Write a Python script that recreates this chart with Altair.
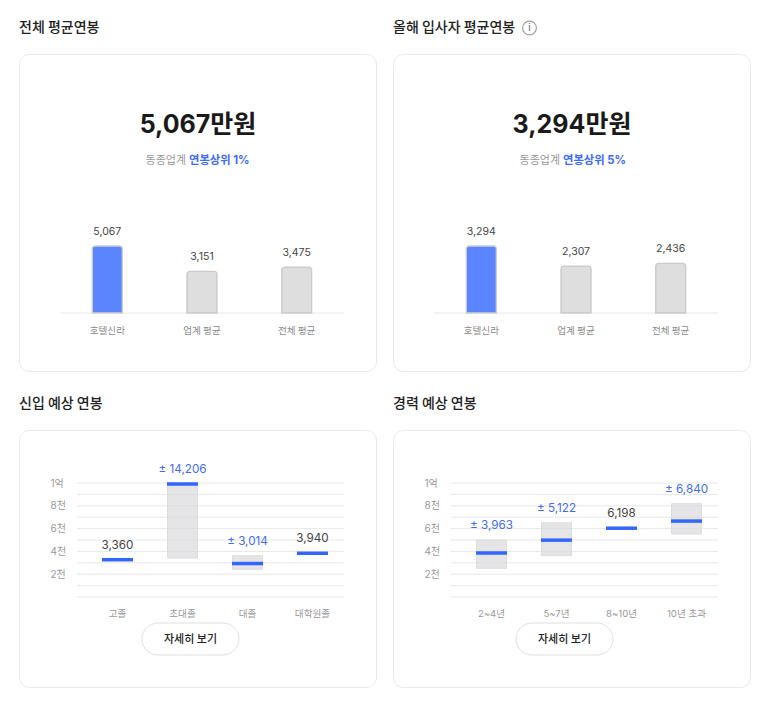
import altair as alt
import pandas as pd

FONT = "Inter, 'Noto Sans CJK KR', sans-serif"
KR = "'Noto Sans CJK KR', sans-serif"

top_titles = ["전체 평균연봉", "올해 입사자 평균연봉"]
top_big = ["5,067만원", "3,294만원"]
top_rank = ["연봉상위 1%", "연봉상위 5%"]
bar_cats = ["호텔신라", "업계 평균", "전체 평균"]
bar_vals_1 = [5067, 3151, 3475]
bar_vals_2 = [3294, 2307, 2436]

edu_cats = ["고졸", "초대졸", "대졸", "대학원졸"]
edu_mean = [3360, 10180, 3014, 3940]
edu_low = [None, 3514, 2495, None]
edu_high = [None, 10180, 3720, None]
edu_labels = ["3,360", "± 14,206", "± 3,014", "3,940"]

exp_cats = ["2~4년", "5~7년", "8~10년", "10년 초과"]
exp_mean = [3963, 5122, 6198, 6840]
exp_low = [2585, 3720, None, 5676]
exp_high = [5135, 6694, None, 8405]
exp_labels = ["± 3,963", "± 5,122", "6,198", "± 6,840"]

grid_vals = [0, 1000, 2000, 3000, 4000, 5000, 6000, 7000, 8000, 9000, 10000]
tick_vals = [2000, 4000, 6000, 8000, 10000]

CARD = alt.ViewBackground(stroke="#e9e9e9", strokeWidth=1, cornerRadius=10, fill="#ffffff")
BLUE = "#3366ff"


def head(text):
    d = pd.DataFrame({"h": [text]})
    return alt.Chart(d).mark_text(fontSize=14, fontWeight=500, color="#222222", font=KR,
                                  align="left").encode(
        x=alt.value(0), y=alt.value(-26), text="h:N")


def bar_panel(title, big, rank, cats, vals, icon=False):
    df = pd.DataFrame({"cat": cats, "val": vals, "label": [f"{v:,}" for v in vals],
                       "first": [True, False, False]})
    x = alt.X("cat:N", sort=None,
              scale=alt.Scale(domain=cats, range=[41, 325]),
              axis=alt.Axis(title=None, domain=False, ticks=False, tickSize=0, labelAngle=0,
                            labelPadding=0, labelBaseline="top", labelFontSize=9.6,
                            labelColor="#8a8a8a", labelFont=KR, offset=-46, grid=False))
    y = alt.Y("val:Q", scale=alt.Scale(domain=[0, max(vals)], range=[259, 192]), axis=None)
    bars = alt.Chart(df).mark_bar(size=30, cornerRadiusTopLeft=3, cornerRadiusTopRight=3,
                                  strokeWidth=1.3).encode(
        x=x, y=y,
        fill=alt.condition("datum.first", alt.value("#5a85ff"), alt.value("#dedede")),
        stroke=alt.condition("datum.first", alt.value("#6f94ff"), alt.value("#cbcbcb")),
    )
    vals_txt = alt.Chart(df).mark_text(dy=-14, fontSize=10.5, color="#444444", font=FONT).encode(
        x=x, y=y, text="label:N")
    base = alt.Chart(df.head(1)).mark_rule(color="#f0f0f0", strokeWidth=1.5).encode(
        x=alt.value(41), x2=alt.value(325), y=alt.value(259))
    d = pd.DataFrame({"big": [big], "gray": ["동종업계"], "rank": [rank]})
    big_t = alt.Chart(d).mark_text(fontSize=25, fontWeight=700, color="#1a1a1a", font=FONT).encode(
        x=alt.value(179), y=alt.value(71), text="big:N")
    gray_t = alt.Chart(d).mark_text(fontSize=11, color="#999999", align="right", font=KR).encode(
        x=alt.value(167), y=alt.value(107), text="gray:N")
    rank_t = alt.Chart(d).mark_text(fontSize=11.3, fontWeight=700, color="#3d6bff", align="left", font=FONT).encode(
        x=alt.value(170), y=alt.value(107), text="rank:N")
    layers = [head(title), base, bars, vals_txt, big_t, gray_t, rank_t]
    if icon:
        c = alt.Chart(d).mark_point(shape="circle", size=190, filled=False, color="#777777",
                                    strokeWidth=1.2).encode(x=alt.value(136.5), y=alt.value(-26))
        i_t = alt.Chart(d.assign(i="i")).mark_text(fontSize=10, color="#666666", font=FONT).encode(
            x=alt.value(136.5), y=alt.value(-26), text="i:N")
        layers += [c, i_t]
    return alt.layer(*layers).properties(width=357, height=317, view=CARD)


def range_panel(title, cats, mean, low, high, labels):
    df = pd.DataFrame({"cat": cats, "mean": mean, "low": low, "high": high, "label": labels})
    df["top"] = df["high"].fillna(df["mean"])
    x = alt.X("cat:N", sort=None,
              scale=alt.Scale(domain=cats, range=[66, 326]),
              axis=alt.Axis(title=None, domain=False, ticks=False, tickSize=0, labelAngle=0,
                            labelPadding=0, labelBaseline="top", labelFontSize=9.6,
                            labelColor="#999999", labelFont=FONT, offset=-79, grid=False))
    yscale = alt.Scale(domain=[0, 10270], range=[167, 53])
    grid = alt.Chart(pd.DataFrame({"g": grid_vals})).mark_rule(color="#e8e8e8", strokeWidth=1).encode(
        y=alt.Y("g:Q", scale=alt.Scale(domain=[0, 10000], range=[167, 53]),
                axis=alt.Axis(values=tick_vals, title=None, domain=False, ticks=False, tickSize=0,
                              grid=False, labelPadding=0, labelAlign="left", labelFontSize=10,
                              labelColor="#999999", labelFont=FONT, offset=-31,
                              labelExpr="datum.value == 10000 ? '1억' : (datum.value / 1000) + '천'")),
        x=alt.value(58), x2=alt.value(325))
    bands = alt.Chart(df.dropna(subset=["low"])).mark_bar(
        size=30, fill="#d8d8dc", fillOpacity=0.68, stroke="#dddddd", strokeWidth=1).encode(
        x=x, y=alt.Y("low:Q", scale=yscale, axis=None), y2="high:Q")
    ticks = alt.Chart(df).mark_tick(size=31, thickness=3.5, color=BLUE, opacity=1).encode(
        x=x, y=alt.Y("mean:Q", scale=yscale, axis=None))
    txt = alt.Chart(df).mark_text(dy=-15, fontSize=11.7, font=FONT).encode(
        x=x, y=alt.Y("top:Q", scale=yscale, axis=None), text="label:N",
        color=alt.condition("datum.low != null", alt.value("#3f6cf5"), alt.value("#444444")))
    d = pd.DataFrame({"b": ["자세히 보기"]})
    btn = alt.Chart(d).mark_rect(cornerRadius=16, fill="#ffffff", stroke="#e0e0e0", strokeWidth=1).encode(
        x=alt.value(123), x2=alt.value(220), y=alt.value(193), y2=alt.value(225))
    btn_t = alt.Chart(d).mark_text(fontSize=11, fontWeight=500, color="#222222", font=KR).encode(
        x=alt.value(171.5), y=alt.value(210), text="b:N")
    marks = alt.layer(bands, ticks, txt)
    return alt.layer(head(title), grid, marks, btn, btn_t).resolve_scale(y="independent").properties(
        width=357, height=257, view=CARD)


p1 = bar_panel(top_titles[0], top_big[0], top_rank[0], bar_cats, bar_vals_1)
p2 = bar_panel(top_titles[1], top_big[1], top_rank[1], bar_cats, bar_vals_2, icon=True)
p3 = range_panel("신입 예상 연봉", edu_cats, edu_mean, edu_low, edu_high, edu_labels)
p4 = range_panel("경력 예상 연봉", exp_cats, exp_mean, exp_low, exp_high, exp_labels)

chart = alt.concat(p1, p2, p3, p4, columns=2, spacing={"column": 17, "row": 59}, bounds="flush",
                   padding={"left": 10, "top": 10, "right": 0, "bottom": 0}).configure(
    font=FONT, background="#ffffff")

chart.save("out.html", embed_options={"renderer": "svg", "actions": False})
